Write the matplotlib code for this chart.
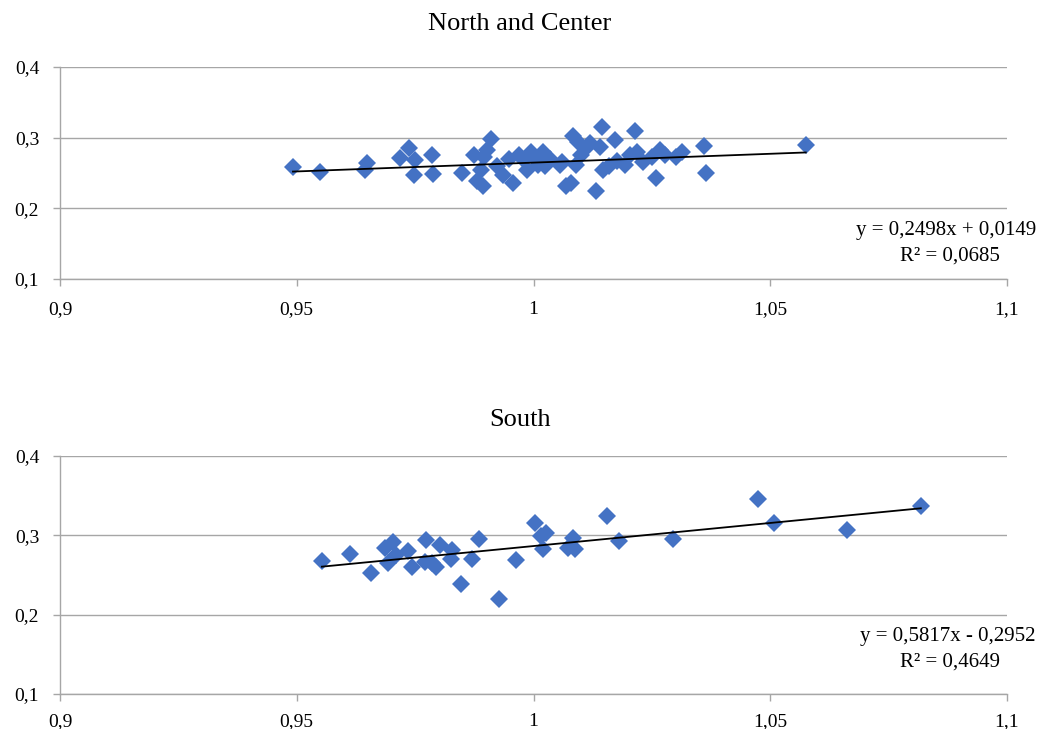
import matplotlib
matplotlib.use("Agg")
import matplotlib.pyplot as plt
import numpy as np

plt.rcParams['font.family'] = ['Liberation Serif', 'DejaVu Serif']

# North and Center
nc_x = [0.9492, 0.9549, 0.9648, 0.9644, 0.9718, 0.9737, 0.9750, 0.9748, 0.9786, 0.9788,
        0.9874, 0.9880, 0.9890, 0.9895, 0.9902, 0.9910, 0.9893, 0.9923, 0.9936, 0.9948,
        0.9957, 0.9970, 0.9980, 0.9995, 0.9986, 1.0007, 1.0020, 1.0024, 1.0056, 1.0060,
        1.0069, 1.0080, 1.0083, 1.0094, 1.0090, 1.0100, 1.0110, 1.0120, 1.0132, 1.0140,
        1.0145, 1.0147, 1.0160, 1.0172, 1.0176, 1.0193, 1.0204, 1.0214, 1.0219, 1.0231,
        1.0250, 1.0259, 1.0267, 1.0278, 1.0300, 1.0314, 1.0360, 1.0364, 1.0575,
        0.9850, 1.0035, 1.0010]
nc_y = [0.2585, 0.2514, 0.2642, 0.2540, 0.2710, 0.2854, 0.2684, 0.2470, 0.2750, 0.2486,
        0.2750, 0.2387, 0.2540, 0.2727, 0.2825, 0.2980, 0.2320, 0.2600, 0.2470, 0.2700,
        0.2360, 0.2750, 0.2680, 0.2800, 0.2540, 0.2680, 0.2800, 0.2600, 0.2610, 0.2656,
        0.2320, 0.2360, 0.3020, 0.2940, 0.2610, 0.2750, 0.2855, 0.2920, 0.2245, 0.2870,
        0.3150, 0.2540, 0.2600, 0.2970, 0.2670, 0.2610, 0.2750, 0.3090, 0.2800, 0.2656,
        0.2730, 0.2430, 0.2825, 0.2750, 0.2730, 0.2800, 0.2880, 0.2500, 0.2897,
        0.2500, 0.2700, 0.2620]
nc_slope, nc_intercept = 0.2498, 0.0149
nc_eq = "y = 0,2498x + 0,0149"
nc_r2 = "R² = 0,0685"

# South
s_x = [0.9553, 0.9612, 0.9657, 0.9686, 0.9693, 0.9703, 0.9710, 0.9735, 0.9743, 0.9773,
       0.9771, 0.9786, 0.9794, 0.9803, 0.9828, 0.9826, 0.9847, 0.9870, 0.9885, 0.9927,
       0.9963, 1.0003, 1.0016, 1.0020, 1.0026, 1.0073, 1.0083, 1.0088, 1.0155, 1.0180,
       1.0295, 1.0474, 1.0508, 1.0662, 1.0818]
s_y = [0.2671, 0.2760, 0.2530, 0.2835, 0.2646, 0.2910, 0.2747, 0.2797, 0.2595, 0.2937,
       0.2658, 0.2646, 0.2595, 0.2873, 0.2810, 0.2696, 0.2392, 0.2696, 0.2950, 0.2200,
       0.2684, 0.3150, 0.2987, 0.2823, 0.3025, 0.2835, 0.2962, 0.2823, 0.3240, 0.2924,
       0.2950, 0.3456, 0.3152, 0.3063, 0.3367]
s_slope, s_intercept = 0.5817, -0.2952
s_eq = "y = 0,5817x - 0,2952"
s_r2 = "R² = 0,4649"

x_ticks = [0.9, 0.95, 1.0, 1.05, 1.1]
x_labels = ["0,9", "0,95", "1", "1,05", "1,1"]
y_ticks = [0.1, 0.2, 0.3, 0.4]
y_labels = ["0,1", "0,2", "0,3", "0,4"]

W, H = 1040, 729
fig = plt.figure(figsize=(W / 100, H / 100), dpi=100)

grid_c = "#A6A6A6"
blue = "#4472C4"


def panel(rect, xs, ys, slope, intercept, title, eq, r2, title_y, eq_y, xpad):
    ax = fig.add_axes(rect)
    ax.set_xlim(0.9, 1.1)
    ax.set_ylim(0.1, 0.4)
    ax.set_xticks(x_ticks)
    ax.set_xticklabels(x_labels)
    ax.set_yticks(y_ticks)
    ax.set_yticklabels(y_labels)
    ax.grid(axis='y', color=grid_c, linewidth=1.0)
    ax.set_axisbelow(True)
    for s in ['top', 'right']:
        ax.spines[s].set_visible(False)
    for s in ['left', 'bottom']:
        ax.spines[s].set_color(grid_c)
        ax.spines[s].set_linewidth(1.0)
    ax.tick_params(axis='both', colors=grid_c, labelcolor='black', labelsize=14,
                   direction='out', length=5, width=1.0)
    ax.tick_params(axis='x', pad=xpad)
    ax.tick_params(axis='y', pad=10)
    ax.plot(xs, ys, linestyle='none', marker='D', markersize=9.5,
            color=blue, markeredgewidth=0, zorder=3)
    xl = np.array([min(xs), max(xs)])
    ax.plot(xl, slope * xl + intercept, color='black', linewidth=1.3, zorder=4)
    fig.text(0.5, title_y, title, ha='center', va='center', fontsize=19)
    fig.text(1036 / W, eq_y, eq, ha='right', va='center', fontsize=15)
    fig.text(1000 / W, eq_y - 25 / H, r2, ha='right', va='center', fontsize=15)
    return ax


left = 60 / W
width = (1007 - 60) / W
panel([left, 1 - 279 / H, width, (279 - 67) / H], nc_x, nc_y, nc_slope, nc_intercept,
      "North and Center", nc_eq, nc_r2, 1 - 24 / H, 1 - 231 / H, 11)
panel([left, 1 - 694 / H, width, (694 - 456) / H], s_x, s_y, s_slope, s_intercept,
      "South", s_eq, s_r2, 1 - 420 / H, 1 - 637 / H, 9)

fig.savefig("out.png", dpi=100)
